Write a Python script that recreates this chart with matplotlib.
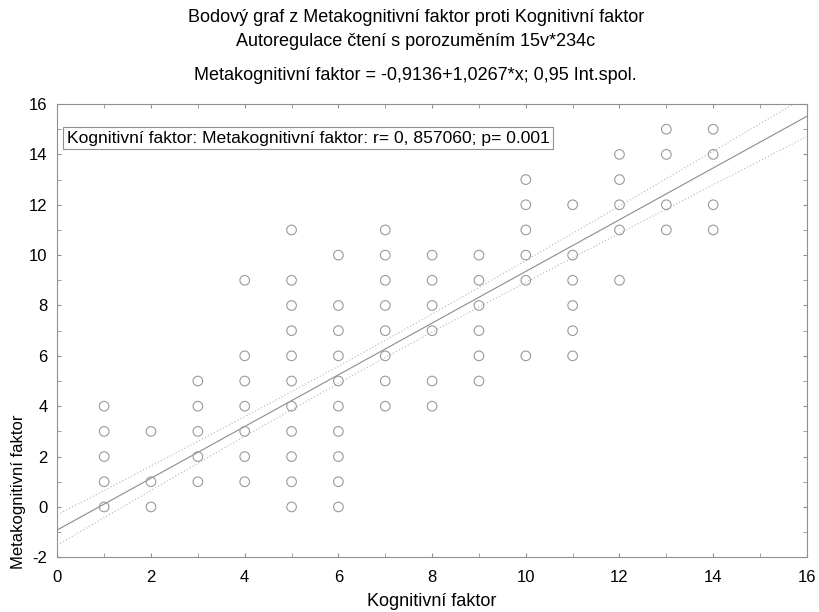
import matplotlib
matplotlib.use("Agg")
import matplotlib.pyplot as plt
from matplotlib.ticker import MultipleLocator
import numpy as np

plt.rcParams['font.family'] = ['Liberation Sans', 'DejaVu Sans']
plt.rcParams['axes.unicode_minus'] = False

# data: x value -> list of distinct y values seen in the picture
kog = [1, 2, 3, 4, 5, 6, 7, 8, 9, 10, 11, 12, 13, 14]
meta = [
    [0, 1, 2, 3, 4],
    [0, 1, 3],
    [1, 2, 3, 4, 5],
    [1, 2, 3, 4, 5, 6, 9],
    [0, 1, 2, 3, 4, 5, 6, 7, 8, 9, 11],
    [0, 1, 2, 3, 4, 5, 6, 7, 8, 10],
    [4, 5, 6, 7, 8, 9, 10, 11],
    [4, 5, 7, 8, 9, 10],
    [5, 6, 7, 8, 9, 10],
    [6, 9, 10, 11, 12, 13],
    [6, 7, 8, 9, 10, 12],
    [9, 11, 12, 13, 14],
    [11, 12, 14, 15],
    [11, 12, 14, 15],
]

# regression (from the chart) and estimated stats for the 0.95 band
intercept = -0.9136
slope = 1.0267
n_cases = 234
x_mean = 6.5
resid_sd = 2.64
sxx = 4630.0
t_val = 1.97

xs = []
ys = []
for x, vals in zip(kog, meta):
    for v in vals:
        xs.append(x)
        ys.append(v)

fig = plt.figure(figsize=(8.2, 6.12), dpi=100)
ax = fig.add_axes([0.0699, 0.0894, 0.9141, 0.7406])

ax.scatter(xs, ys, s=48, facecolors='none', edgecolors='#9a9a9a', linewidths=0.8, zorder=3)

xl = np.linspace(0, 16, 200)
yl = intercept + slope * xl
hw = t_val * resid_sd * np.sqrt(1 / n_cases + (xl - x_mean) ** 2 / sxx)
ax.plot(xl, yl, color='#8c8c8c', lw=0.8)
ax.plot(xl, yl + hw, color='#b4b4b4', lw=0.8, ls=(0, (1, 2)))
ax.plot(xl, yl - hw, color='#b4b4b4', lw=0.8, ls=(0, (1, 2)))

ax.set_xlim(0, 16)
ax.set_ylim(-2, 16)
ax.xaxis.set_major_locator(MultipleLocator(2))
ax.xaxis.set_minor_locator(MultipleLocator(1))
ax.yaxis.set_major_locator(MultipleLocator(2))
ax.yaxis.set_minor_locator(MultipleLocator(1))
ax.tick_params(which='both', direction='in', top=True, right=True, length=3,
               color='#909090', labelsize=12)
ax.tick_params(axis='x', pad=9)
ax.tick_params(axis='y', pad=7)
for sp in ax.spines.values():
    sp.set_color('#909090')
    sp.set_linewidth(0.8)

ax.set_xlabel('Kognitivní faktor', fontsize=13)
ax.set_ylabel('Metakognitivní faktor', fontsize=12, loc='bottom')
ax.yaxis.set_label_coords(-0.042, -0.025)
ax.xaxis.set_label_coords(0.5, -0.079)

ax.text(0.0124, 0.924, 'Kognitivní faktor: Metakognitivní faktor: r= 0, 857060; p= 0.001',
        transform=ax.transAxes, fontsize=12.6, va='center', ha='left',
        bbox=dict(boxstyle='square,pad=0.2', fc='white', ec='#909090', lw=0.8))

fig.text(0.507, 1 - 17 / 612, 'Bodový graf z Metakognitivní faktor proti Kognitivní faktor',
         ha='center', va='center', fontsize=13)
fig.text(0.507, 1 - 42 / 612, 'Autoregulace čtení s porozuměním 15v*234c',
         ha='center', va='center', fontsize=13)
fig.text(0.507, 1 - 76 / 612, 'Metakognitivní faktor = -0,9136+1,0267*x; 0,95 Int.spol.',
         ha='center', va='center', fontsize=13)

plt.savefig('out.png', dpi=100)
